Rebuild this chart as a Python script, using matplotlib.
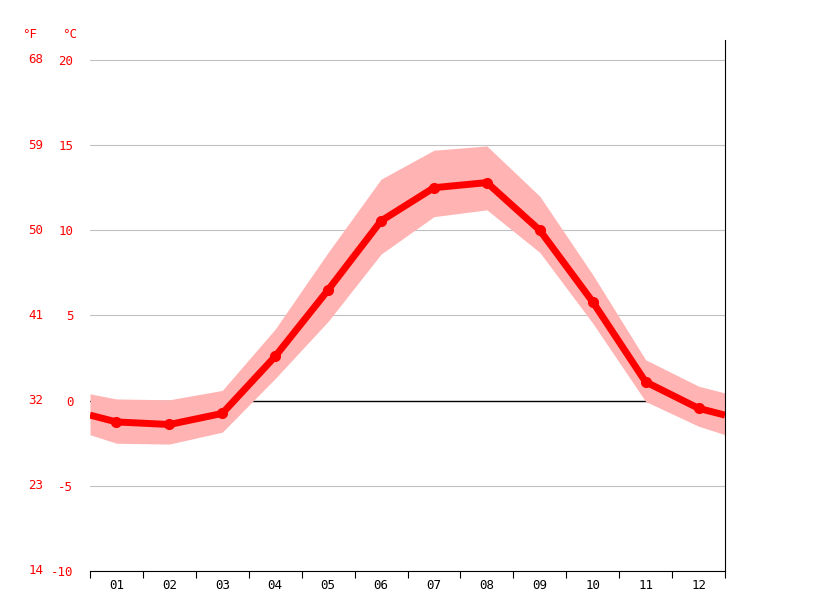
import matplotlib
matplotlib.use("Agg")
import matplotlib.pyplot as plt

months = ["01","02","03","04","05","06","07","08","09","10","11","12"]
# x positions: 0.5 and 12.5 are the chart edges
xs = [0.5,1,2,3,4,5,6,7,8,9,10,11,12,12.5]
mean = [-0.85,-1.25,-1.4,-0.75,2.6,6.5,10.55,12.5,12.8,10.0,5.8,1.1,-0.45,-0.85]
upper = [0.4,0.1,0.05,0.6,4.2,8.7,13.0,14.7,14.95,12.0,7.4,2.4,0.85,0.45]
lower = [-2.0,-2.5,-2.55,-1.85,1.3,4.65,8.6,10.8,11.2,8.7,4.55,-0.05,-1.5,-2.0]
c_ticks = [-10,-5,0,5,10,15,20]
f_ticks = [14,23,32,41,50,59,68]

fig = plt.figure(figsize=(8.15,6.11), dpi=100)
ax = fig.add_axes([90/815, 1-571/611, 635/815, 531/611])
ax.set_xlim(0.5,12.5)
ax.set_ylim(-10, 21.17)
for t in c_ticks:
    if t != 0:
        ax.axhline(t, color="#c0c0c0", lw=0.8, zorder=0)
ax.axhline(0, color="black", lw=1, zorder=1)
ax.fill_between(xs, lower, upper, color="#ffb3b3", lw=0, zorder=2)
ax.plot(xs, mean, color="#ff0000", lw=5, zorder=3, solid_capstyle="butt")
ax.plot(xs[1:-1], mean[1:-1], "o", color="#ff0000", ms=7, zorder=4)

for s in ["top","left"]:
    ax.spines[s].set_visible(False)
ax.spines["right"].set_color("black")
ax.spines["bottom"].set_color("black")
ax.set_yticks(c_ticks)
ax.set_yticklabels([str(t) for t in c_ticks], color="red", family="DejaVu Sans Mono", fontsize=9)
ax.tick_params(axis="y", length=0, pad=12)
ax.set_xticks([i+0.5 for i in range(13)])
ax.set_xticklabels([])
ax.set_xticks(range(1,13), minor=True)
ax.set_xticklabels(months, minor=True, family="DejaVu Sans Mono", fontsize=9)
ax.tick_params(axis="x", which="major", length=5)
ax.tick_params(axis="x", which="minor", length=0, pad=6)
tr = ax.get_yaxis_transform()
for c, f in zip(c_ticks, f_ticks):
    ax.text(-0.085, c, str(f), transform=tr, color="red", family="DejaVu Sans Mono", fontsize=9, ha="center", va="center")
fig.text(30/815, 1-35/611, "°F", color="red", family="DejaVu Sans Mono", fontsize=9, ha="center", va="center")
fig.text(70/815, 1-35/611, "°C", color="red", family="DejaVu Sans Mono", fontsize=9, ha="center", va="center")
fig.savefig("out.png", dpi=100)
